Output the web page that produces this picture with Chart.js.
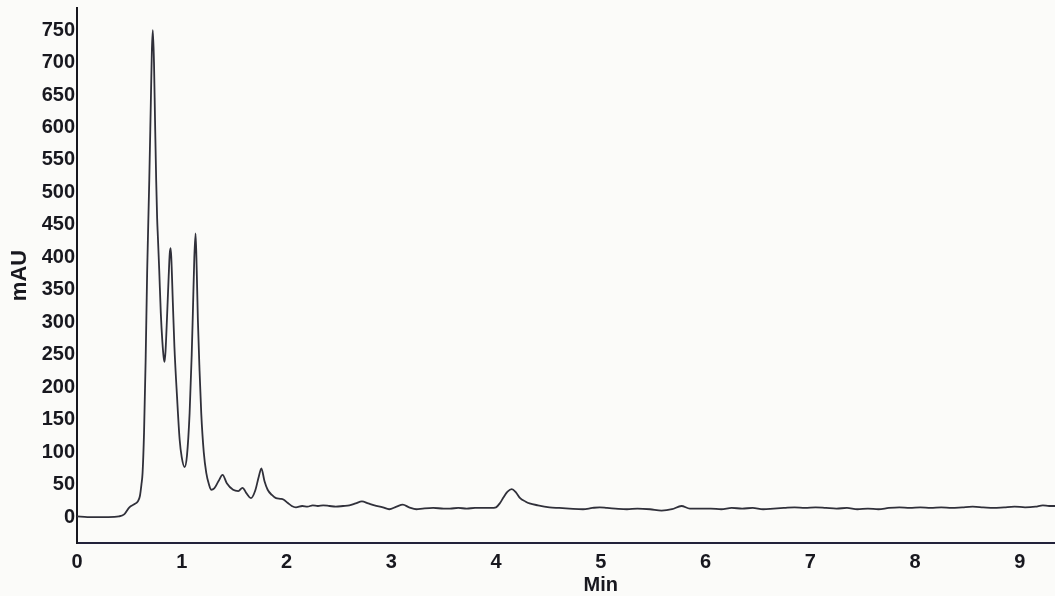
<!DOCTYPE html>
<html>
<head>
<meta charset="utf-8">
<title>HPLC chromatogram</title>
<script src="https://cdn.jsdelivr.net/npm/chart.js@4.4.1/dist/chart.umd.min.js"></script>
<style>
  html, body { margin: 0; padding: 0; background: #fbfbf9; }
  canvas { display: block; }
</style>
</head>
<body>
<canvas id="chrom" width="1055" height="596"></canvas>
<script>
// Retention time (min) and detector response (mAU)
const timeMin = [
  0.00, 0.10, 0.20, 0.30, 0.40, 0.45, 0.50, 0.55, 0.58, 0.60,
  0.615, 0.626, 0.64, 0.655, 0.67, 0.69, 0.705, 0.715, 0.724, 0.735,
  0.745, 0.756, 0.765, 0.772, 0.785, 0.80, 0.815, 0.828, 0.836, 0.845,
  0.86, 0.875, 0.885, 0.893, 0.90, 0.915, 0.93, 0.955, 0.98, 1.00,
  1.027, 1.05, 1.075, 1.095, 1.106, 1.12, 1.132, 1.143, 1.154, 1.17,
  1.186, 1.21, 1.234, 1.26, 1.28, 1.31, 1.35, 1.39, 1.43, 1.49,
  1.54, 1.58, 1.62, 1.66, 1.70, 1.735, 1.76, 1.79, 1.82, 1.86,
  1.90, 1.94, 1.97, 2.01, 2.05, 2.09, 2.15, 2.20, 2.25, 2.30,
  2.35, 2.41, 2.47, 2.54, 2.60, 2.66, 2.72, 2.78, 2.84, 2.92,
  2.98, 3.05, 3.11, 3.17, 3.24, 3.30, 3.40, 3.50, 3.56, 3.64,
  3.72, 3.80, 3.88, 3.95, 4.00, 4.04, 4.07, 4.11, 4.15, 4.19,
  4.23, 4.28, 4.32, 4.40, 4.51, 4.60, 4.70, 4.83, 4.92, 4.99,
  5.06, 5.14, 5.25, 5.35, 5.47, 5.58, 5.68, 5.77, 5.85, 5.95,
  6.05, 6.15, 6.25, 6.35, 6.45, 6.55, 6.65, 6.75, 6.85, 6.95,
  7.05, 7.15, 7.25, 7.35, 7.45, 7.55, 7.65, 7.75, 7.85, 7.95,
  8.05, 8.15, 8.25, 8.35, 8.45, 8.55, 8.65, 8.75, 8.85, 8.95,
  9.05, 9.15, 9.22, 9.28, 9.34
];
const signalMAU = [
  1, 0, 0, 0, 1, 4, 15, 20, 24, 32,
  50, 68, 130, 240, 380, 519, 640, 720, 750, 700,
  610, 518, 460, 432, 380, 314, 270, 245, 239, 255,
  310, 370, 405, 414, 400, 330, 262, 185, 119, 92,
  77, 95, 160, 250, 314, 400, 437, 380, 303, 225,
  160, 100, 68, 50, 42, 44, 55, 65, 52, 42,
  40, 45, 36, 29, 40, 62, 75, 55, 42, 34,
  29, 28, 27, 22, 17, 15, 17, 16, 18, 17,
  18, 17, 16, 17, 18, 21, 24, 21, 18, 15,
  12, 16, 19, 15, 12, 13, 14, 13, 13, 14,
  13, 14, 14, 14, 15, 22, 30, 39, 43, 38,
  29, 24, 21, 18, 15, 14, 13, 12, 14, 15,
  14, 13, 12, 13, 12, 10, 12, 17, 13, 13,
  13, 12, 14, 13, 14, 12, 13, 14, 15, 14,
  15, 14, 13, 14, 12, 13, 12, 14, 15, 14,
  15, 14, 15, 14, 15, 16, 15, 14, 15, 16,
  15, 16, 18, 17, 17
];
const xTickValues = [0, 1, 2, 3, 4, 5, 6, 7, 8, 9];
const yTickValues = [0, 50, 100, 150, 200, 250, 300, 350, 400, 450, 500, 550, 600, 650, 700, 750];

const tracePoints = timeMin.map((t, i) => ({ x: t, y: signalMAU[i] }));

const labelFont = { family: 'Liberation Sans', weight: 'bold', size: 20 };
const inkColor = '#18181f';

// "Min" caption sits under the middle of the time axis labels
const timeCaption = {
  id: 'timeCaption',
  afterDraw(chart) {
    const { ctx, scales } = chart;
    const x = scales.x.getPixelForValue(5);
    ctx.save();
    ctx.font = 'bold 20px "Liberation Sans"';
    ctx.fillStyle = inkColor;
    ctx.textAlign = 'center';
    ctx.textBaseline = 'middle';
    ctx.fillText('Min', x, 585);
    ctx.restore();
  }
};

const paperBackground = {
  id: 'paperBackground',
  beforeDraw(chart) {
    const { ctx, width, height } = chart;
    ctx.save();
    ctx.fillStyle = '#fbfbf9';
    ctx.fillRect(0, 0, width, height);
    ctx.restore();
  }
};

new Chart(document.getElementById('chrom'), {
  type: 'line',
  data: {
    datasets: [{
      data: tracePoints,
      borderColor: '#30303a',
      borderWidth: 1.8,
      pointRadius: 0,
      fill: false,
      cubicInterpolationMode: 'monotone'
    }]
  },
  options: {
    responsive: false,
    devicePixelRatio: 1,
    animation: false,
    layout: { padding: { top: 8, right: 0, bottom: 0, left: 0 } },
    plugins: {
      legend: { display: false },
      tooltip: { enabled: false }
    },
    scales: {
      x: {
        type: 'linear',
        min: 0,
        max: 9.336,
        grid: { display: false, drawTicks: false },
        border: { display: true, color: '#22223a', width: 2 },
        ticks: {
          font: labelFont,
          color: inkColor,
          padding: 7,
          maxRotation: 0
        },
        afterBuildTicks(axis) {
          axis.ticks = xTickValues.map(v => ({ value: v }));
        },
        afterFit(axis) {
          axis.height = 53;
          axis.paddingLeft = 0;
          axis.paddingRight = 0;
        }
      },
      y: {
        type: 'linear',
        min: -40,
        max: 784,
        grid: { display: false, drawTicks: false },
        border: { display: true, color: inkColor, width: 2 },
        ticks: {
          font: labelFont,
          color: inkColor,
          padding: 2
        },
        afterBuildTicks(axis) {
          axis.ticks = yTickValues.map(v => ({ value: v }));
        },
        afterFit(axis) {
          axis.width = 77;
          axis.paddingTop = 0;
          axis.paddingBottom = 0;
        },
        title: {
          display: true,
          text: 'mAU',
          font: { family: 'Liberation Sans', weight: 'bold', size: 22 },
          color: inkColor,
          padding: { top: 7, bottom: 0 }
        }
      }
    }
  },
  plugins: [paperBackground, timeCaption]
});
</script>
</body>
</html>
